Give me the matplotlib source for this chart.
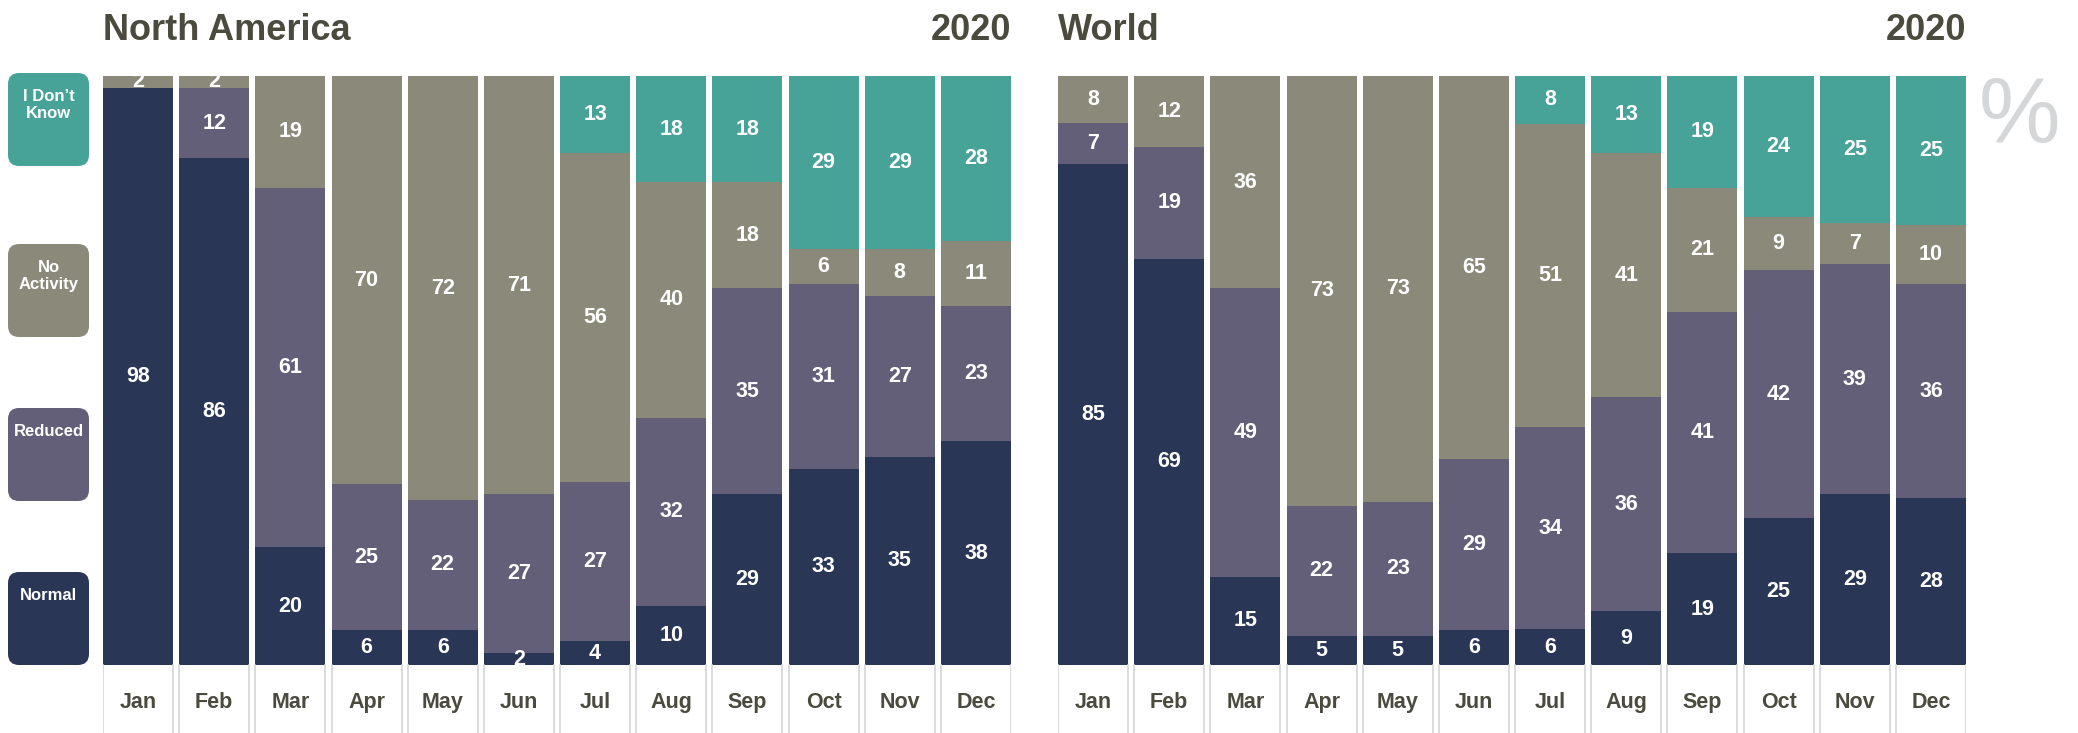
import matplotlib.pyplot as plt
import numpy as np
from matplotlib.patches import FancyBboxPatch

plt.rcParams['font.family'] = ['Liberation Sans', 'DejaVu Sans']

months = ['Jan', 'Feb', 'Mar', 'Apr', 'May', 'Jun',
          'Jul', 'Aug', 'Sep', 'Oct', 'Nov', 'Dec']
categories = ['Normal', 'Reduced', 'No\nActivity', "I Don\u2019t\nKnow"]

# North America, % of respondents per month
na_normal = [98, 86, 20, 6, 6, 2, 4, 10, 29, 33, 35, 38]
na_reduced = [0, 12, 61, 25, 22, 27, 27, 32, 35, 31, 27, 23]
na_no_activity = [2, 2, 19, 70, 72, 71, 56, 40, 18, 6, 8, 11]
na_dont_know = [0, 0, 0, 0, 0, 0, 13, 18, 18, 29, 29, 28]

# World
w_normal = [85, 69, 15, 5, 5, 6, 6, 9, 19, 25, 29, 28]
w_reduced = [7, 19, 49, 22, 23, 29, 34, 36, 41, 42, 39, 36]
w_no_activity = [8, 12, 36, 73, 73, 65, 51, 41, 21, 9, 7, 10]
w_dont_know = [0, 0, 0, 0, 0, 0, 8, 13, 19, 24, 25, 25]

colors = ['#2A3656', '#645F78', '#8B8A7A', '#47A398']
title_color = '#4A4A3E'

W, H = 2078, 733
fig = plt.figure(figsize=(W / 100, H / 100), dpi=100)

bar_top, bar_bottom = 76, 665
label_depth = (H - bar_bottom) / (bar_bottom - bar_top) * 100
width = 70 / 76


def draw_panel(left_px, title, series):
    ax = fig.add_axes([left_px / W, 0, 908 / W, (H - bar_top) / H])
    data = np.array(series, dtype=float)
    shares = data / data.sum(axis=0) * 100
    x = np.arange(len(months))
    bottom = np.zeros(len(months))
    for k in range(len(series)):
        ax.bar(x, shares[k], width, bottom=bottom, color=colors[k], linewidth=0)
        for i in range(len(months)):
            if data[k, i] > 0:
                ax.text(x[i], bottom[i] + shares[k, i] / 2, f'{int(data[k, i])}',
                        ha='center', va='center', color='white',
                        fontsize=15.5, fontweight='bold')
        bottom += shares[k]
    for i in range(len(months)):
        for edge in (x[i] - width / 2, x[i] + width / 2):
            ax.plot([edge, edge], [-label_depth, 0], color='#D3D6D8', lw=1.2)
        ax.text(x[i], -label_depth * 0.55, months[i], ha='center', va='center',
                color=title_color, fontsize=15.5, fontweight='bold')
    ax.set_xlim(-width / 2, len(months) - 1 + width / 2)
    ax.set_ylim(-label_depth, 100)
    ax.axis('off')
    fig.text(left_px / W, 1 - 30 / H, title, ha='left', va='center',
             fontsize=26, fontweight='bold', color=title_color)
    fig.text((left_px + 908) / W, 1 - 30 / H, '2020', ha='right', va='center',
             fontsize=26, fontweight='bold', color=title_color)


draw_panel(103, 'North America', [na_normal, na_reduced, na_no_activity, na_dont_know])
draw_panel(1058, 'World', [w_normal, w_reduced, w_no_activity, w_dont_know])

# legend boxes on the left
lax = fig.add_axes([0, 0, 100 / W, 1])
lax.set_xlim(0, 100)
lax.set_ylim(H, 0)
lax.axis('off')
box_tops = [572, 408, 244, 73]
for k, top in enumerate(box_tops):
    lax.add_patch(FancyBboxPatch((8, top), 81, 93,
                                 boxstyle='round,pad=0,rounding_size=11',
                                 facecolor=colors[k], edgecolor='none'))
    lax.text(48.5, top + 16, categories[k], ha='center', va='top',
             color='white', fontsize=12, fontweight='bold', linespacing=1.15)

fig.text(2020 / W, 1 - 118 / H, '%', ha='center', va='center',
         fontsize=66, color='#D5D6D8')

fig.savefig('out.png', dpi=100)
